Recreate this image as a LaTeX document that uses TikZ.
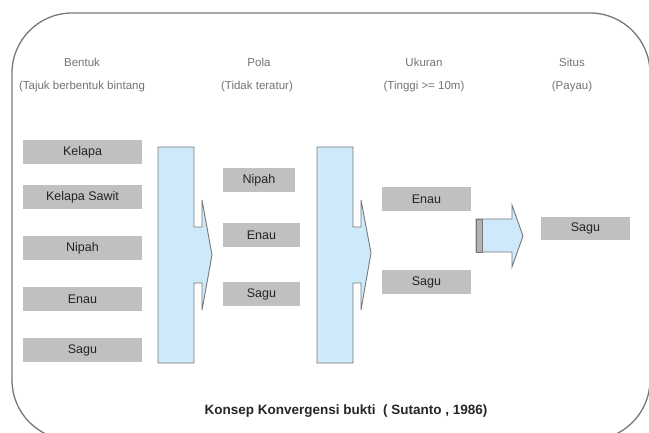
\documentclass[tikz,border=0pt]{standalone}
\usepackage{fontspec}
\setmainfont{Liberation Sans}
\definecolor{frame}{RGB}{120,120,120}
\definecolor{boxfill}{RGB}{192,192,192}
\definecolor{arrfill}{RGB}{206,234,250}
\definecolor{arredge}{RGB}{120,120,120}
\definecolor{hdr}{RGB}{115,115,115}
\definecolor{lbl}{RGB}{35,35,35}
\begin{document}
\begin{tikzpicture}[x=1pt,y=-1pt,
  item/.style={fill=boxfill,draw=none,inner sep=0pt,minimum height=24pt,text=lbl,font=\fontsize{12.5}{14}\selectfont},
  head/.style={text=hdr,inner sep=0pt,font=\fontsize{11.5}{13}\selectfont},
  blockarrow/.style={fill=arrfill,draw=arredge,line width=0.9pt,line join=miter}]
\useasboundingbox (0,0) rectangle (649,432);
\begin{scope}
\clip (0,0) rectangle (649,432);
\draw[frame,line width=1.3pt,rounded corners=60pt] (12,13) rectangle (650,440);
\end{scope}
% headers
\node[head] (h1a) at (82,62) {Bentuk};
\node[head] (h1b) at (82,87) {(Tajuk berbentuk bintang};
\node[head] (h2a) at (259,62) {Pola};
\node[head] (h2b) at (257,87) {(Tidak teratur)};
\node[head] (h3a) at (424,62) {Ukuran};
\node[head] (h3b) at (424,87) {(Tinggi >= 10m)};
\node[head] (h4a) at (572,62) {Situs};
\node[head] (h4b) at (572,87) {(Payau)};
% column 1
\node[item,minimum width=119pt] (c1a) at (82.5,152) {Kelapa};
\node[item,minimum width=119pt] (c1b) at (82.5,197) {Kelapa Sawit};
\node[item,minimum width=119pt] (c1c) at (82.5,248) {Nipah};
\node[item,minimum width=119pt] (c1d) at (82.5,299) {Enau};
\node[item,minimum width=119pt] (c1e) at (82.5,350) {Sagu};
% arrow 1
\draw[blockarrow] (158,147) -- (194,147) -- (194,227) -- (202,227) -- (202,200) -- (212,255) -- (202,310) -- (202,283) -- (194,283) -- (194,363) -- (158,363) -- cycle;
% column 2
\node[item,minimum width=72pt] (c2a) at (259,180) {Nipah};
\node[item,minimum width=77pt] (c2b) at (261.5,235) {Enau};
\node[item,minimum width=77pt] (c2c) at (261.5,294) {Sagu};
% arrow 2
\draw[blockarrow] (317,147) -- (353,147) -- (353,227) -- (361,227) -- (361,200) -- (371,253) -- (361,310) -- (361,283) -- (353,283) -- (353,363) -- (317,363) -- cycle;
% column 3
\node[item,minimum width=89pt] (c3a) at (426.5,199) {Enau};
\node[item,minimum width=89pt] (c3b) at (426.5,282) {Sagu};
% small arrow
\draw[blockarrow] (476,219) -- (512,219) -- (512,205) -- (523,236) -- (512,267) -- (512,252) -- (476,252) -- cycle;
\draw[fill=gray!60,draw=arredge,line width=0.9pt] (476,219) rectangle (482,252);
% column 4
\node[item,minimum width=89pt,minimum height=23pt] (c4a) at (585.5,228.5) {Sagu};
% footer
\node[inner sep=0pt,text=black!85,font=\bfseries\fontsize{13.5}{15}\selectfont] (foot) at (346,411) {Konsep Konvergensi bukti\ \ ( Sutanto , 1986)};
\end{tikzpicture}
\end{document}
